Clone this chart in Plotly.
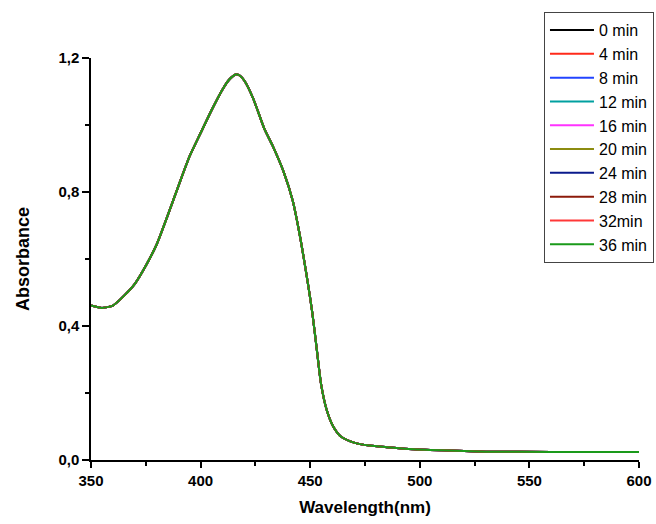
import plotly.graph_objects as go

# UV-Vis absorption spectra recorded every 4 minutes
wavelength = [350, 355, 360, 365, 370, 375, 380, 385, 390, 395, 400, 405, 410,
              413, 416, 418, 420, 424, 429, 433, 438, 442, 445, 449, 451, 453,
              455, 457.5, 460.5, 464, 470, 477, 485, 495, 510, 530, 560, 600]
absorbance = [0.461, 0.454, 0.461, 0.490, 0.526, 0.580, 0.644, 0.730, 0.820,
              0.907, 0.976, 1.044, 1.106, 1.135, 1.151, 1.147, 1.132, 1.079,
              0.990, 0.936, 0.858, 0.775, 0.680, 0.525, 0.438, 0.330, 0.225,
              0.150, 0.100, 0.070, 0.052, 0.043, 0.038, 0.033, 0.029, 0.025,
              0.024, 0.024]

scan_labels = ["0 min", "4 min", "8 min", "12 min", "16 min", "20 min",
               "24 min", "28 min", "32min", "36 min"]
scan_colors = ["#000000", "#FF2A1A", "#2244FF", "#00A0A0", "#FF33FF",
               "#8C8C10", "#0A1A8C", "#8C1A0A", "#FF3838", "#1A9A1A"]

fig = go.Figure()
for label, color in zip(scan_labels, scan_colors):
    fig.add_trace(go.Scatter(
        x=wavelength, y=absorbance, mode="lines", name=label,
        line=dict(color=color, width=2, shape="spline", smoothing=0.6),
    ))

FAMILY = "Liberation Sans, Arial, sans-serif"

fig.update_layout(
    width=656, height=524,
    margin=dict(l=91, r=17, t=58, b=64, autoexpand=False),
    paper_bgcolor="white", plot_bgcolor="white",
    separators=",.",
    showlegend=True,
    legend=dict(
        x=0.8266, xanchor="left", y=1.114, yanchor="top",
        bordercolor="#444444", borderwidth=1, bgcolor="white",
        font=dict(family=FAMILY, size=16, color="black"),
        itemwidth=44, tracegroupgap=0,
    ),
    xaxis=dict(
        range=[350, 600], tickvals=[350, 400, 450, 500, 550, 600],
        showgrid=False, zeroline=False,
        showline=True, linecolor="black", linewidth=1.5,
        ticks="outside", ticklen=6, tickwidth=1.5, tickcolor="black",
        minor=dict(dtick=25, tick0=350, ticks="outside", ticklen=4,
                   tickwidth=1.5, tickcolor="black", showgrid=False),
        tickfont=dict(family=FAMILY, size=15, color="black", weight="bold"),
        title=dict(text="Wavelength(nm)",
                   font=dict(family=FAMILY, size=17, color="black",
                             weight="bold"),
                   standoff=13),
    ),
    yaxis=dict(
        range=[0, 1.2], tickvals=[0, 0.4, 0.8, 1.2], tickformat=".1f",
        showgrid=False, zeroline=False,
        showline=True, linecolor="black", linewidth=1.5,
        ticks="outside", ticklen=7, tickwidth=1.5, tickcolor="black",
        minor=dict(dtick=0.2, tick0=0, ticks="outside", ticklen=4,
                   tickwidth=1.5, tickcolor="black", showgrid=False),
        tickfont=dict(family=FAMILY, size=15, color="black", weight="bold"),
        title=dict(text="Absorbance",
                   font=dict(family=FAMILY, size=18, color="black",
                             weight="bold"),
                   standoff=24),
    ),
)

fig.write_html("out.html")
